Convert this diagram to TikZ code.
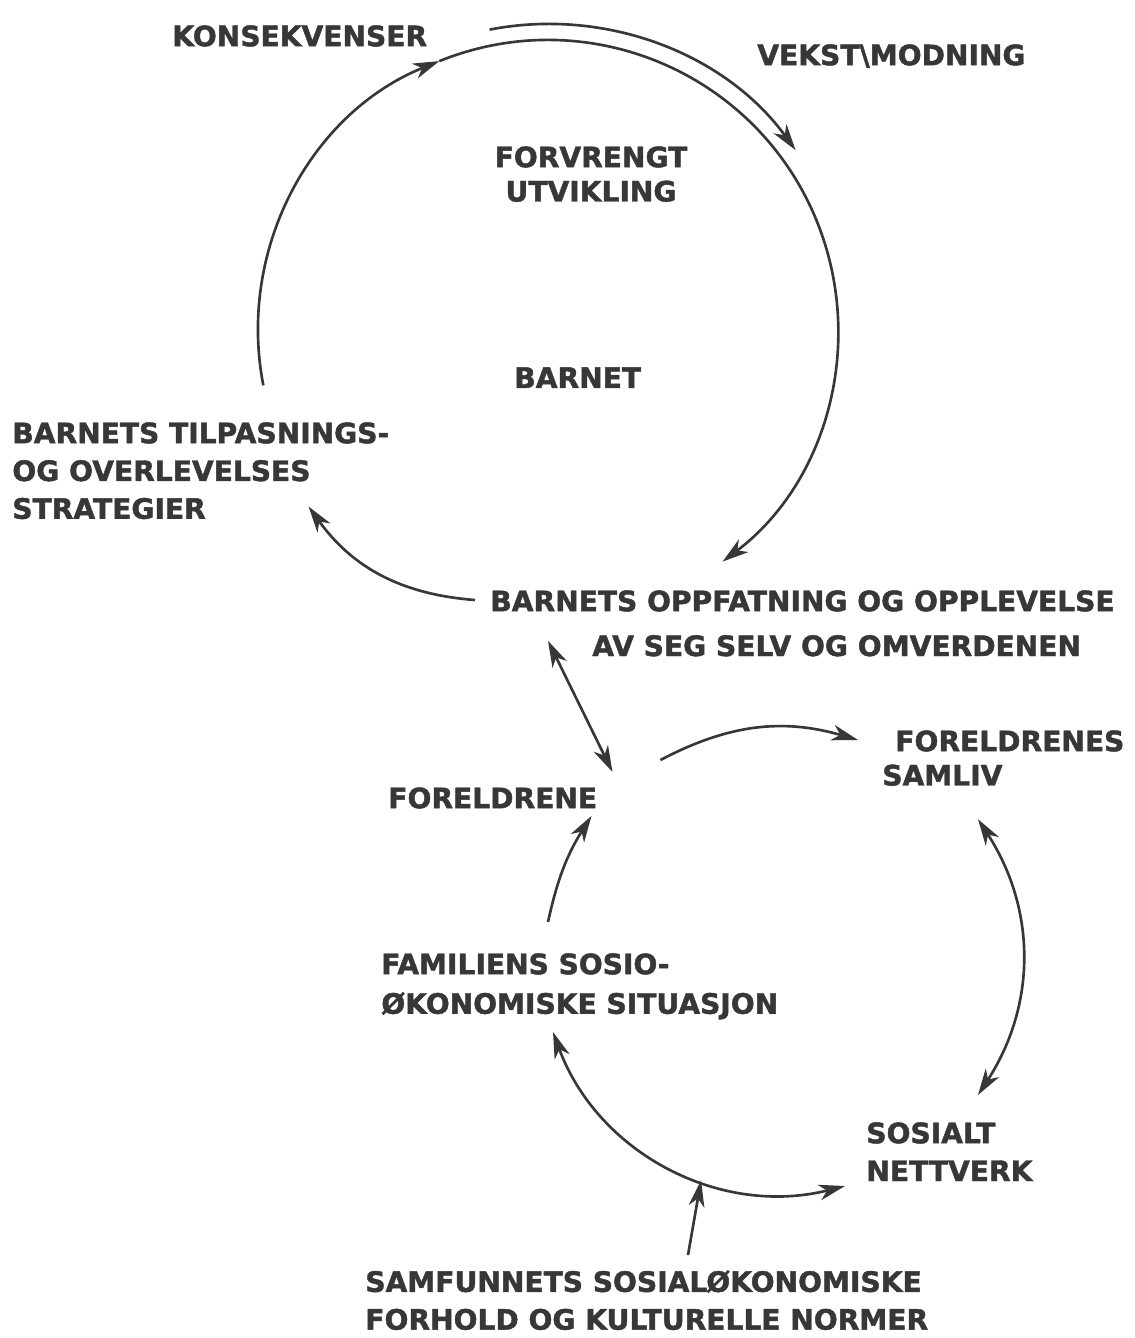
\documentclass[tikz,border=0pt]{standalone}
\usepackage{fontspec}
\setmainfont{DejaVu Sans}[BoldFeatures={FakeBold=1.6}]
\usepackage{xcolor}
\usetikzlibrary{arrows.meta,calc}
\definecolor{ink}{RGB}{55,55,55}

\begin{document}
\begin{tikzpicture}[x=0.02cm,y=0.02cm,
	every node/.style={inner sep=0pt,text=ink,font=\bfseries\fontsize{16}{21.5}\selectfont},
	lbl/.style={anchor=north west,align=left},
	tip/.tip={Stealth[length=15pt,width=9pt,inset=4.5pt]},
	flow/.style={draw=ink,line width=1.5pt,-tip},
	both/.style={draw=ink,line width=1.5pt,tip-tip}] 
	\useasboundingbox (0,0) rectangle (1134,-1338);
	% the big loop round the child
	\coordinate (c) at (548,-330);
	\coordinate (kv1) at ($(c)+(191:290)$);
	\coordinate (kv2) at ($(c)+(112:290)$);
	\coordinate (kv3) at ($(c)+(101:306)$);
	\node[lbl] (kons) at (172,-25) {KONSEKVENSER};
	\node[lbl] (vekst) at (757,-44) {VEKST\textbackslash MODNING};
	\node[anchor=north,align=center] (forvr) at (591,-146) {FORVRENGT\\[-2pt]UTVIKLING};
	\node[lbl] (barnet) at (514,-367) {BARNET};
	\node[lbl] (tilp) at (12,-422) {BARNETS TILPASNINGS-\\OG OVERLEVELSES\\STRATEGIER};
	\node[lbl] (oppf) at (490,-590) {BARNETS OPPFATNING OG OPPLEVELSE\\[4pt]\hspace*{2.04cm}AV SEG SELV OG OMVERDENEN};
	% the family
	\node[lbl] (foreldrene) at (388,-787) {FORELDRENE};
	\node[lbl] (samliv) at (882,-730) {\hspace*{0.26cm}FORELDRENES\\[-2pt]SAMLIV};
	\node[lbl] (familie) at (381,-953) {FAMILIENS SOSIO-\\[1pt]ØKONOMISKE SITUASJON};
	\node[lbl] (sosialt) at (866,-1122) {SOSIALT\\NETTVERK};
	\node[lbl] (samfunn) at (365,-1270) {SAMFUNNETS SOSIALØKONOMISKE\\FORHOLD OG KULTURELLE NORMER};
	\draw[flow] (kv1) arc[start angle=191,end angle=112,radius=290];
	\draw[flow] (kv2) arc[start angle=112,end angle=-53,radius=290];
	\draw[flow] (kv3) arc[start angle=101,end angle=36,radius=306];
	\path
	([shift={(-15,-10)}]oppf.north west) edge[flow,bend left=25] ([shift={(-81,13)}]tilp.south east)
	([shift={(63,27)}]foreldrene.north east) edge[flow,bend left=22] ([shift={(-24,-10)}]samliv.north west)
	([shift={(167,31)}]familie.north west) edge[flow,bend left=10] ([shift={(-6,-7)}]foreldrene.south east)
	([shift={(58,16)}]oppf.south west) edge[both] ([shift={(15,15)}]foreldrene.north east)
	([shift={(96,-33)}]samliv.south west) edge[both,bend left=33] ([shift={(112,27)}]sosialt.north west);
	\draw[both] ([shift={(172,-79)}]familie.north west) to[bend right=42] coordinate[pos=0.6] (m) ([shift={(-21,-64)}]sosialt.north west);
	\draw[flow] ([shift={(323,15)}]samfunn.north west) -- (m);
	%\draw[flow] (barnet) -- (forvr);
\end{tikzpicture}
\end{document}
